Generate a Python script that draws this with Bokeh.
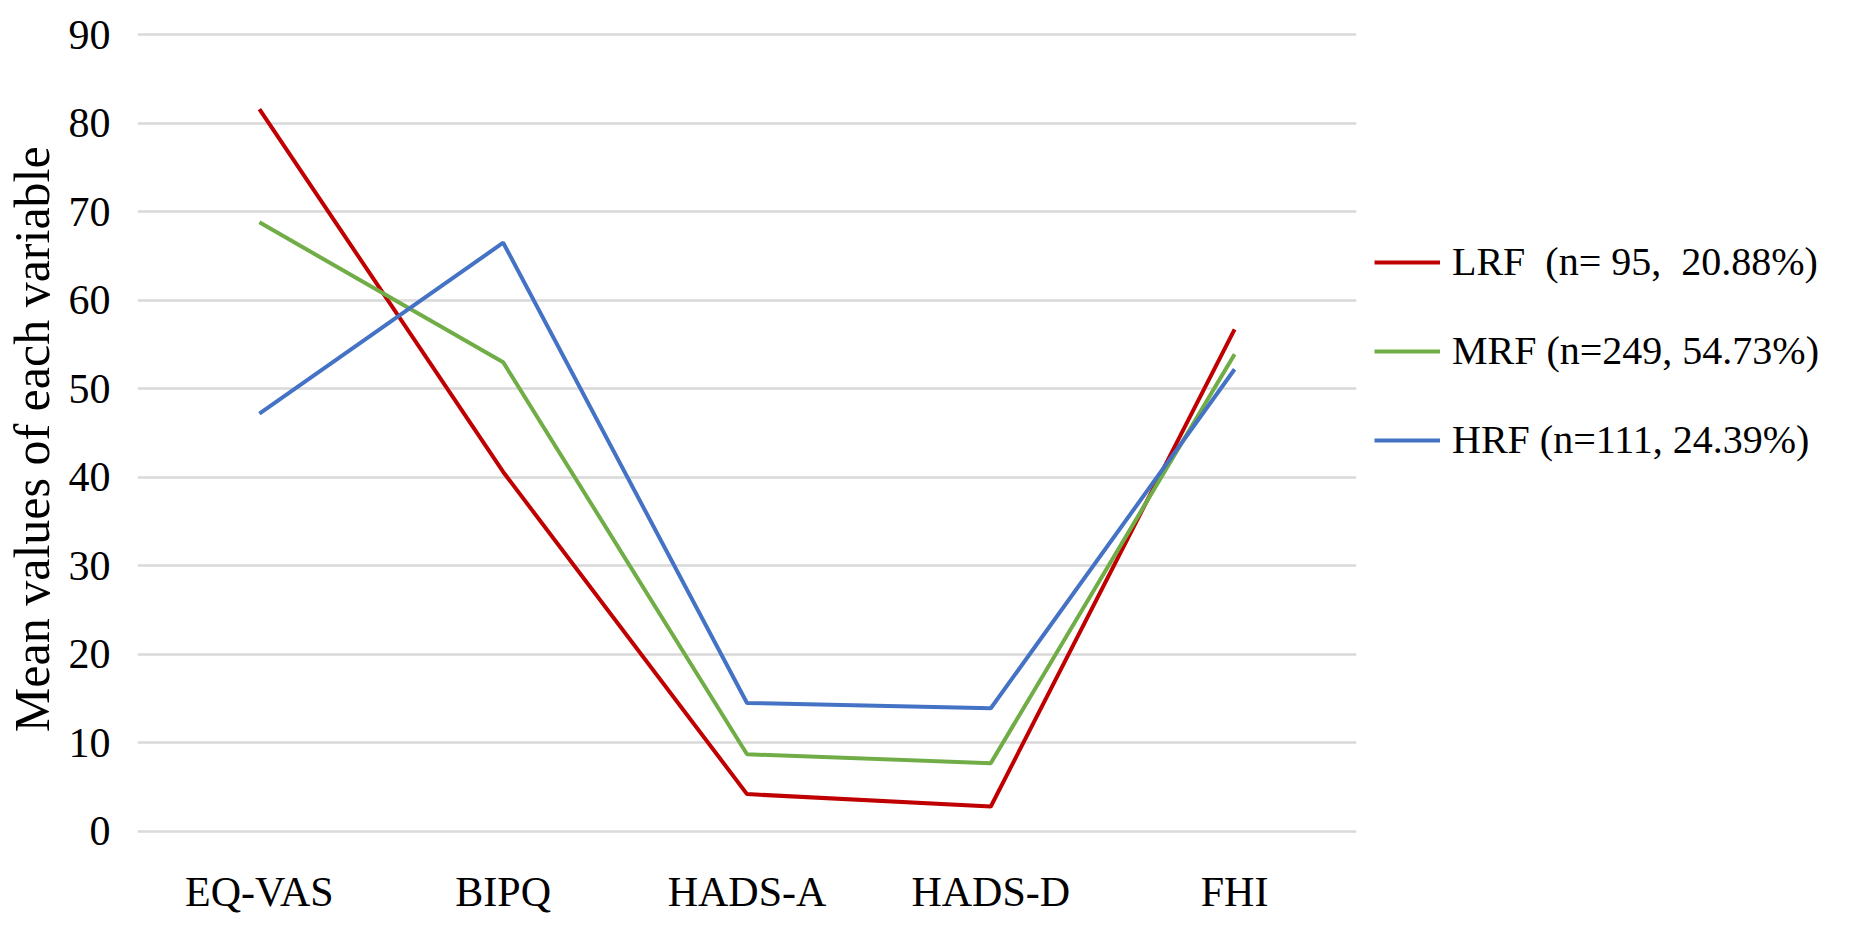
from bokeh.plotting import figure
from bokeh.models import Legend, LegendItem, Range1d, FactorRange, FixedTicker
from bokeh.embed import file_html
from bokeh.resources import INLINE

categories = ["EQ-VAS", "BIPQ", "HADS-A", "HADS-D", "FHI"]
lrf = [81.6, 40.6, 4.2, 2.8, 56.7]
mrf = [68.8, 53.0, 8.7, 7.7, 53.9]
hrf = [47.2, 66.5, 14.5, 13.9, 52.2]
series_labels = ["LRF  (n= 95,  20.88%)", "MRF (n=249, 54.73%)", "HRF (n=111, 24.39%)"]
colors = ["#C00000", "#70AD47", "#4472C4"]
y_ticks = [0, 10, 20, 30, 40, 50, 60, 70, 80, 90]

FONT = "Liberation Serif"

p = figure(
    x_range=FactorRange(*categories, range_padding=0),
    y_range=Range1d(-0.25, 90.25),
    frame_width=1219, frame_height=801,
    min_border_left=127, min_border_right=494,
    min_border_top=32, min_border_bottom=79,
    output_backend="svg", toolbar_location=None,
)
p.outline_line_color = None
p.background_fill_color = "white"
p.border_fill_color = "white"

p.xgrid.grid_line_color = None
p.ygrid.grid_line_color = "#D9D9D9"
p.ygrid.grid_line_width = 2.5
p.yaxis.ticker = FixedTicker(ticks=y_ticks)

for ax in (p.xaxis, p.yaxis):
    ax.axis_line_color = None
    ax.major_tick_line_color = None
    ax.minor_tick_line_color = None
    ax.major_tick_out = 0
    ax.major_tick_in = 0
    ax.major_label_text_font = FONT
    ax.major_label_text_font_size = "42px"
    ax.major_label_text_color = "#000000"

p.yaxis.major_label_standoff = 27
p.xaxis.major_label_standoff = 35
p.yaxis.axis_label = "Mean values  of each variable"
p.yaxis.axis_label_text_font = FONT
p.yaxis.axis_label_text_font_size = "50px"
p.yaxis.axis_label_text_font_style = "normal"
p.yaxis.axis_label_text_color = "#000000"
p.yaxis.axis_label_standoff = 6

renderers = []
for vals, col in zip([lrf, mrf, hrf], colors):
    r = p.line(categories, vals, line_color=col, line_width=4)
    renderers.append(r)

legend = Legend(
    items=[LegendItem(label=lab, renderers=[r]) for lab, r in zip(series_labels, renderers)],
    location=(18, 370),
    orientation="vertical",
    glyph_width=66, glyph_height=40,
    label_height=40, spacing=42,
    label_standoff=12,
    padding=0, margin=0,
    border_line_color=None,
    background_fill_alpha=0,
    label_text_font=FONT,
    label_text_font_size="40px",
    label_text_color="#000000",
)
p.add_layout(legend, "right")

open("out.html", "w").write(file_html(p, INLINE))
